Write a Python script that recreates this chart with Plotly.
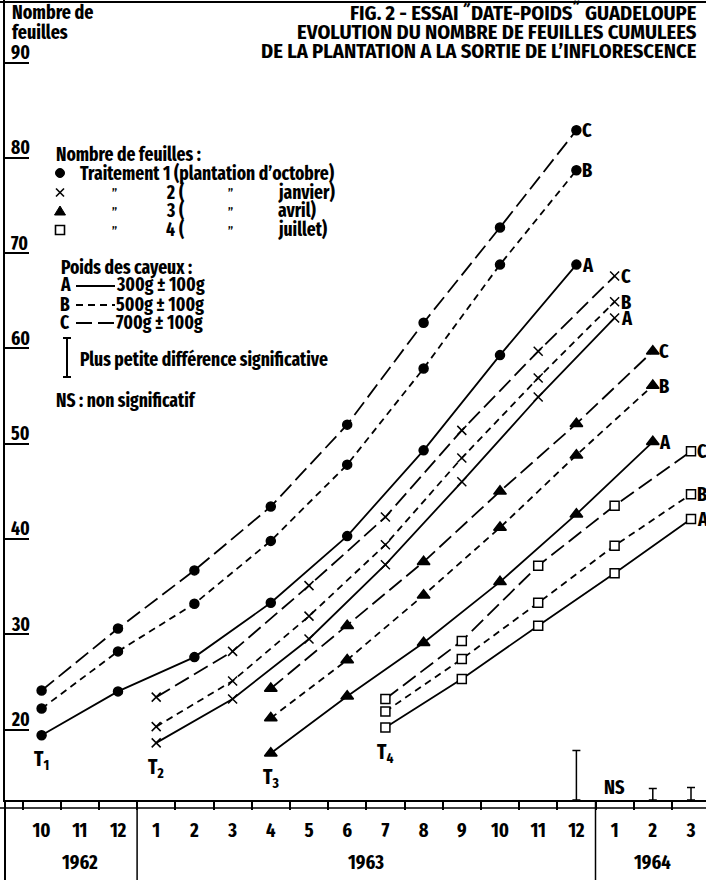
import plotly.graph_objects as go

# ---- data -----------------------------------------------------------------
# x = month index: Oct 1962 = 10, Dec 1962 = 12, Jan 1963 = 13 ... Mar 1964 = 27
month_pos = list(range(10, 28))
month_labels = ["10", "11", "12", "1", "2", "3", "4", "5", "6", "7", "8", "9",
                "10", "11", "12", "1", "2", "3"]
years = ["1962", "1963", "1964"]
year_centers = [11, 18.5, 26]
year_breaks = [12.5, 24.5]
y_ticks = [20, 30, 40, 50, 60, 70, 80, 90]

# Traitement 1 : plantation d'octobre 1962
t1_x = [10, 12, 14, 16, 18, 20, 22, 24]
t1_A = [19.4, 24.0, 27.6, 33.3, 40.3, 49.3, 59.3, 68.8]
t1_B = [22.2, 28.2, 33.2, 39.8, 47.8, 57.9, 68.8, 78.7]
t1_C = [24.1, 30.6, 36.7, 43.4, 52.0, 62.7, 72.7, 82.9]

# Traitement 2 : plantation de janvier 1963
t2_x = [13, 15, 17, 19, 21, 23, 25]
t2_A = [18.6, 23.2, 29.5, 37.3, 46.0, 54.9, 63.2]
t2_B = [20.3, 25.1, 31.9, 39.4, 48.5, 56.9, 64.9]
t2_C = [23.4, 28.2, 35.1, 42.3, 51.4, 59.7, 67.6]

# Traitement 3 : plantation d'avril 1963
t3_x = [16, 18, 20, 22, 24, 26]
t3_A = [17.5, 23.5, 29.1, 35.5, 42.6, 50.2]
t3_B = [21.2, 27.3, 34.1, 41.2, 48.8, 56.1]
t3_C = [24.3, 30.9, 37.6, 45.0, 52.1, 59.7]

# Traitement 4 : plantation de juillet 1963
t4_x = [19, 21, 23, 25, 27]
t4_A = [20.2, 25.3, 30.9, 36.4, 42.1]
t4_B = [21.9, 27.4, 33.3, 39.3, 44.7]
t4_C = [23.2, 29.3, 37.2, 43.5, 49.2]

# plus petite difference significative at the end of each treatment
psd_x = [24, 26, 27]
psd = [5.2, 1.2, 1.3]
ns_x = 25

# ---- geometry ---------------------------------------------------------------
W, H = 706, 880
ML, MR, MT, MB = 5, 0, 0, 80
PW, PH = W - ML - MR, H - MT - MB

# axis calibration: month 10 centred at 41.6 px, 38.2 px per month;
# 50 leaves at 443.7 px, 9.527 px per leaf
x_lo = 10 + (ML - 41.6) / 38.2
x_hi = 10 + (W - MR - 41.6) / 38.2
y_hi = 50 + (443.7 - MT) / 9.527
y_lo = 50 + (443.7 - (MT + PH)) / 9.527


def px(x):
    return (x - ML) / PW


def py(y):
    return 1 - (y - MT) / PH


TITLE_FONT = "Fira Sans Condensed, DejaVu Sans Condensed, sans-serif"
FONT = "Fira Sans Extra Condensed, Fira Sans Condensed, DejaVu Sans Condensed, sans-serif"
INK = "black"

dash_style = {"A": "solid", "B": "7px,5px", "C": "16px,6px"}
symbols = {1: "circle", 2: "x-thin-open", 3: "triangle-up", 4: "square"}
sizes = {1: 9, 2: 9, 3: 11, 4: 9}

series = [
    (1, t1_x, {"A": t1_A, "B": t1_B, "C": t1_C}),
    (2, t2_x, {"A": t2_A, "B": t2_B, "C": t2_C}),
    (3, t3_x, {"A": t3_A, "B": t3_B, "C": t3_C}),
    (4, t4_x, {"A": t4_A, "B": t4_B, "C": t4_C}),
]

fig = go.Figure()

for num, xs, groups in series:
    for key, ys in groups.items():
        mk = dict(symbol=symbols[num], size=sizes[num], color=INK,
                  line=dict(color=INK, width=1.5))
        if num == 4:
            mk["color"] = "white"
        fig.add_trace(go.Scatter(
            x=xs, y=ys, mode="lines+markers",
            line=dict(color=INK, width=1.8, dash=dash_style[key]),
            marker=mk, showlegend=False, hoverinfo="skip", cliponaxis=False,
        ))

# least significant difference bars, standing on the time axis
fig.add_trace(go.Scatter(
    x=psd_x, y=[y_lo] * len(psd_x), mode="markers",
    marker=dict(size=1, color="rgba(0,0,0,0)"),
    error_y=dict(type="data", symmetric=False, array=psd,
                 arrayminus=[0] * len(psd), width=4, thickness=1.5, color=INK),
    showlegend=False, hoverinfo="skip", cliponaxis=False,
))

ann = []
shapes = []


def text(t, x, y, size=19, anchor="left", xref="paper", yref="paper",
         family=FONT, **kw):
    ann.append(dict(text=t, x=x, y=y, xref=xref, yref=yref, xanchor=anchor,
                    yanchor="middle", showarrow=False, borderpad=0,
                    font=dict(family=family, size=size, color=INK, weight="bold"), **kw))


def seg(x0, y0, x1, y1, width=1.8, dash="solid"):
    shapes.append(dict(type="line", xref="paper", yref="paper",
                       x0=px(x0), x1=px(x1), y0=py(y0), y1=py(y1),
                       line=dict(color=INK, width=width, dash=dash)))


# title block
text("FIG. 2 - ESSAI \u02ddDATE-POIDS\u02dd GUADELOUPE", px(698), py(13),
     size=20.5, anchor="right", family=TITLE_FONT)
text("EVOLUTION DU NOMBRE DE FEUILLES CUMULEES", px(698), py(32),
     size=20.5, anchor="right", family=TITLE_FONT)
text("DE LA PLANTATION A LA SORTIE DE L\u2019INFLORESCENCE", px(698), py(51),
     size=20.5, anchor="right", family=TITLE_FONT)
text("Nombre de", px(11), py(13), size=19.5)
text("feuilles", px(11), py(32), size=19.5)

# leaf-count labels sitting on their tick rules
for v in y_ticks:
    text(str(v), px(10), v, yref="y", yshift=10)

# curve letters after the last point, treatment labels under the first A point
for num, xs, groups in series:
    for key, ys in groups.items():
        text(key, xs[-1], ys[-1], size=20, xref="x", yref="y", xshift=5)
    text(f"T<sub>{num}</sub>", xs[0], groups["A"][0], size=21, anchor="center",
         xref="x", yref="y", yshift=-25)

# year labels
for yr, xc in zip(years, year_centers):
    text(yr, xc, py(862), xref="x", anchor="center", size=20)

text("NS", ns_x, py(787), xref="x", anchor="center", size=20)

# legend block
text("Nombre de feuilles :", px(55), py(155))
text("Traitement 1 (plantation d\u2019octobre)", px(79), py(173))
leg_rows = [("2", "janvier)", 192), ("3", "avril)", 211), ("4", "juillet)", 230)]
for n, word, yy in leg_rows:
    text("\u201d", px(111), py(yy + 2), size=12)
    text(n, px(165), py(yy))
    text("(", px(178), py(yy))
    text("\u201d", px(227), py(yy + 2), size=12)
    text(word, px(277), py(yy))

# legend symbols
cx = 60
shapes.append(dict(type="circle", xref="paper", yref="paper",
                   x0=px(cx - 4.5), x1=px(cx + 4.5), y0=py(173 - 4.5), y1=py(173 + 4.5),
                   fillcolor=INK, line=dict(color=INK, width=1)))
seg(cx - 4, 188.5, cx + 4, 196.5, width=1.6)
seg(cx - 4, 196.5, cx + 4, 188.5, width=1.6)
shapes.append(dict(type="path", xref="paper", yref="paper",
                   path=f"M {px(cx - 5.5)},{py(215)} L {px(cx + 5.5)},{py(215)} "
                        f"L {px(cx)},{py(206)} Z",
                   fillcolor=INK, line=dict(color=INK, width=1)))
shapes.append(dict(type="rect", xref="paper", yref="paper",
                   x0=px(cx - 4.5), x1=px(cx + 4.5), y0=py(230 - 4.5), y1=py(230 + 4.5),
                   fillcolor="white", line=dict(color=INK, width=1.6)))

text("Poids des cayeux :", px(60), py(267))
weights = [("A", "300g \u00b1 100g", 285), ("B", "500g \u00b1 100g", 304),
           ("C", "700g \u00b1 100g", 322)]
for key, lab, yy in weights:
    text(key, px(59), py(yy))
    text(lab, px(115), py(yy))
    seg(76, yy + 1, 115, yy + 1, dash=dash_style[key])

# small "I" symbol of the legend
seg(67, 338, 67, 377, width=2)
seg(63, 338, 71, 338, width=2)
seg(63, 377, 71, 377, width=2)
text("Plus petite diff\u00e9rence significative", px(79), py(360))
text("NS : non significatif", px(55), py(400))

# frame: top rule, second rule of the time band, year separators, left edge
seg(0, 2, W, 2, width=2)
seg(0, 808, W, 808, width=1.5)
for xb in year_breaks:
    shapes.append(dict(type="line", xref="x", yref="paper", x0=xb, x1=xb,
                       y0=py(800), y1=py(880), line=dict(color=INK, width=1.5)))
shapes.append(dict(type="line", xref="paper", yref="paper", x0=0, x1=0,
                   y0=py(800), y1=py(880), line=dict(color=INK, width=2)))

boundaries = [m + 0.5 for m in range(9, 27)]

fig.update_layout(
    width=W, height=H, margin=dict(l=ML, r=MR, t=MT, b=MB),
    paper_bgcolor="white", plot_bgcolor="white",
    annotations=ann, shapes=shapes,
    xaxis=dict(range=[x_lo, x_hi], tickmode="array", tickvals=month_pos,
               ticktext=month_labels, ticks="", showline=True, linecolor=INK,
               linewidth=2, showgrid=False, zeroline=False, ticklabelstandoff=11,
               tickfont=dict(family=FONT, size=20, color=INK, weight="bold"),
               minor=dict(tickmode="array", tickvals=boundaries, ticks="outside",
                          ticklen=8, tickwidth=1.5, tickcolor=INK)),
    yaxis=dict(range=[y_lo, y_hi], tickmode="array", tickvals=y_ticks,
               ticks="inside", ticklen=24, tickwidth=1.5, tickcolor=INK,
               showline=True, linecolor=INK, linewidth=2, showgrid=False,
               zeroline=False, showticklabels=False),
)

fig.write_html("out.html")
